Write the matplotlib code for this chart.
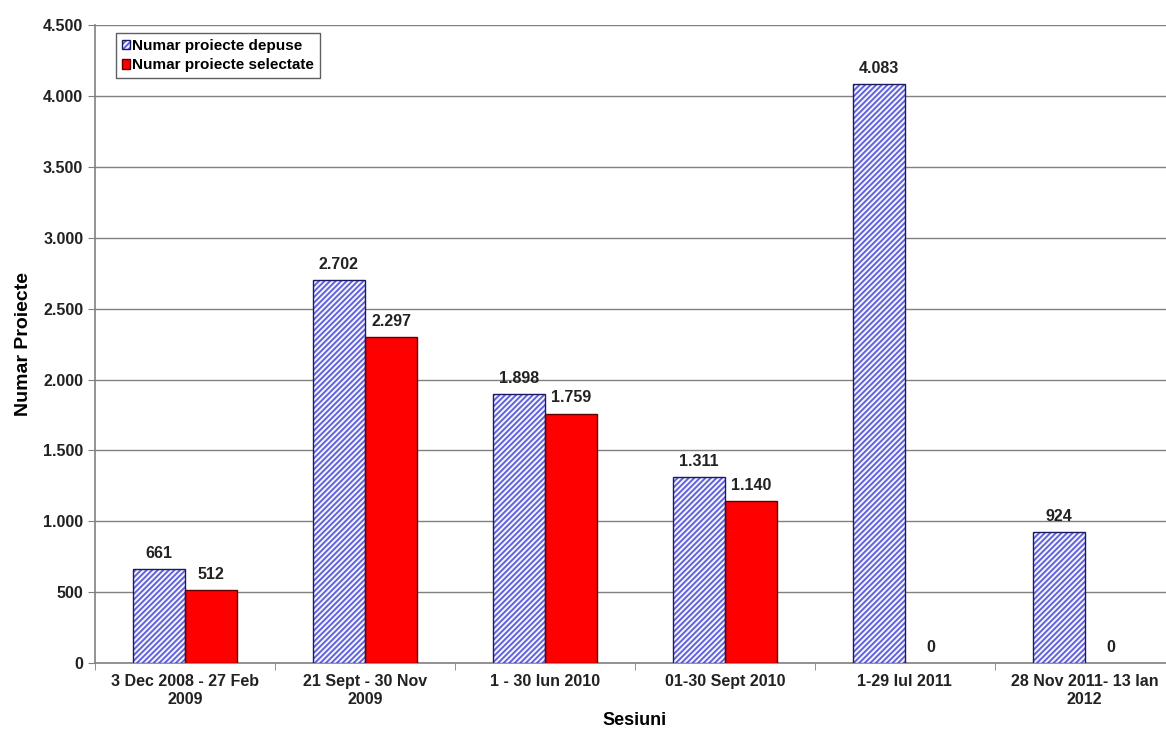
import matplotlib
matplotlib.use("Agg")
import matplotlib.pyplot as plt
import numpy as np
from matplotlib.ticker import FuncFormatter, MultipleLocator

# --- data ---
sessions = [
    "3 Dec 2008 - 27 Feb\n2009",
    "21 Sept - 30 Nov\n2009",
    "1 - 30 Iun 2010",
    "01-30 Sept 2010",
    "1-29 Iul 2011",
    "28 Nov 2011- 13 Ian\n2012",
]
depuse = [661, 2702, 1898, 1311, 4083, 924]
selectate = [512, 2297, 1759, 1140, 0, 0]

plt.rcParams["font.family"] = ["Liberation Sans", "DejaVu Sans"]
plt.rcParams["font.weight"] = "bold"
plt.rcParams["hatch.linewidth"] = 1.4

HATCH_BLUE = "#6262dc"
EDGE_NAVY = "#1a1a60"


def thousands(v, _pos):
    return f"{int(v):,}".replace(",", ".")


fig = plt.figure(figsize=(11.66, 7.33), dpi=100)
ax = fig.add_axes([0.0815, 0.0955, 0.926, 0.870])

x = np.arange(len(sessions))
w = 0.29

# hatch colour follows edgecolor, so draw the hatch and the outline separately
b1 = ax.bar(x - w / 2, depuse, w, facecolor="#f6f6ff", edgecolor=HATCH_BLUE,
            hatch="//////", linewidth=0, zorder=3)
b1_edge = ax.bar(x - w / 2, depuse, w, facecolor="none", edgecolor=EDGE_NAVY,
                 linewidth=1.0, zorder=4)
b2 = ax.bar(x + w / 2, selectate, w, facecolor="#ff0000", edgecolor="#600000",
            linewidth=1.0, zorder=3)
# zero-height bars leave no visible outline in the original
for rect in b2:
    if rect.get_height() == 0:
        rect.set_linewidth(0)

for bars in (b1, b2):
    for rect in bars:
        h = rect.get_height()
        ax.annotate(thousands(h, None),
                    (rect.get_x() + rect.get_width() / 2, h),
                    xytext=(0, 6), textcoords="offset points",
                    ha="center", va="bottom", fontsize=11.5, fontweight="bold",
                    color="#222222")

ax.set_xlim(-0.5, len(sessions) - 0.5)
ax.set_ylim(0, 4500)
ax.yaxis.set_major_locator(MultipleLocator(500))
ax.yaxis.set_major_formatter(FuncFormatter(thousands))
ax.grid(axis="y", color="#808080", linewidth=1.0, zorder=0)

ax.set_xticks(x)
ax.set_xticklabels(sessions, fontsize=11.5, fontweight="bold", color="#222222")
ax.set_xticks(np.arange(len(sessions) + 1) - 0.5, minor=True)
ax.tick_params(axis="x", which="major", length=0, pad=8)
ax.tick_params(axis="x", which="minor", length=5, color="#808080")
ax.tick_params(axis="y", labelsize=11.5, length=5, color="#808080",
               labelcolor="#222222")
for lbl in ax.get_yticklabels():
    lbl.set_fontweight("bold")

for side in ("top", "right"):
    ax.spines[side].set_visible(False)
for side in ("left", "bottom"):
    ax.spines[side].set_color("#808080")
    ax.spines[side].set_linewidth(1.2)

ax.set_xlabel("Sesiuni", fontsize=13, fontweight="bold", labelpad=4)
ax.set_ylabel("Numar Proiecte", fontsize=14, fontweight="bold", labelpad=8)

leg = ax.legend(handles=[(b1, b1_edge), b2],
                labels=["Numar proiecte depuse", "Numar proiecte selectate"],
                loc="upper left", bbox_to_anchor=(0.012, 1.0),
                fontsize=11, handlelength=0.55, handleheight=0.55,
                handletextpad=0.15, borderpad=0.4, labelspacing=0.35,
                fancybox=False, edgecolor="#606060", framealpha=1)
leg.get_frame().set_linewidth(1.0)
for t in leg.get_texts():
    t.set_fontweight("bold")

fig.savefig("out.png", dpi=100)
